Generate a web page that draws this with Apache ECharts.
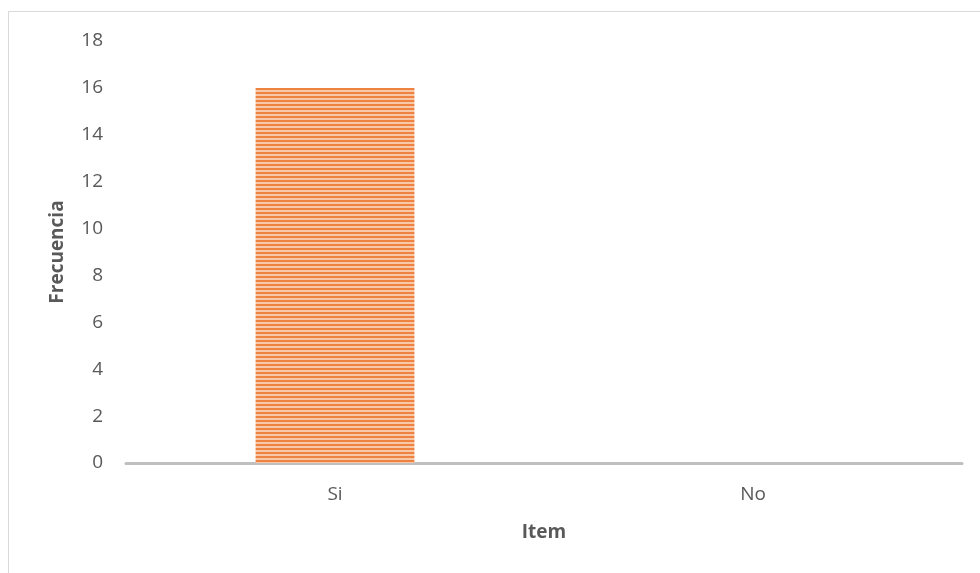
<!DOCTYPE html>
<html><head><meta charset="utf-8">
<script src="https://cdn.jsdelivr.net/npm/echarts@6/dist/echarts.min.js"></script>
<style>html,body{margin:0;padding:0;background:#fff}#c{width:980px;height:573px}
#frame{position:absolute;left:8px;top:11px;width:980px;height:570px;border:1px solid #d9d9d9;box-sizing:border-box;pointer-events:none}</style>
</head><body><div id="frame"></div><div id="c"></div>
<script>
var categories = ['Si', 'No'];
var frecuencia = [16, 0];
var yTicks = [0, 2, 4, 6, 8, 10, 12, 14, 16, 18];

var pc = document.createElement('canvas');
pc.width = 8; pc.height = 4;
var ctx = pc.getContext('2d');
ctx.fillStyle = '#ee8240'; ctx.fillRect(0, 0, 8, 2);
ctx.fillStyle = '#f8c9a8'; ctx.fillRect(0, 2, 8, 2);

var chart = echarts.init(document.getElementById('c'));
chart.setOption({
  animation: false,
  grid: { left: 126, right: 18, top: 41, bottom: 110 },
  xAxis: {
    type: 'category', data: categories,
    name: 'Item', nameLocation: 'middle', nameGap: 60,
    nameTextStyle: { fontFamily: 'Open Sans', fontSize: 19, fontWeight: 'bold', color: '#595959' },
    axisLine: { lineStyle: { color: '#bfbfbf', width: 3 } },
    axisTick: { show: false },
    axisLabel: { fontFamily: 'Open Sans', fontSize: 19, color: '#595959', margin: 22 }
  },
  yAxis: {
    type: 'value', min: 0, max: 18, interval: 2,
    name: 'Frecuencia', nameLocation: 'middle', nameGap: 59, nameRotate: 90,
    nameTextStyle: { fontFamily: 'Open Sans', fontSize: 19, fontWeight: 'bold', color: '#595959' },
    axisLine: { show: false }, axisTick: { show: false },
    splitLine: { show: false },
    axisLabel: { fontFamily: 'Open Sans', fontSize: 19, color: '#595959', margin: 23,
      formatter: function (v) { return yTicks.indexOf(v) >= 0 ? String(v) : ''; } }
  },
  series: [{
    type: 'bar', data: frecuencia, barCategoryGap: '62%',
    itemStyle: { color: { image: pc, repeat: 'repeat' } }
  }]
});
</script></body></html>
